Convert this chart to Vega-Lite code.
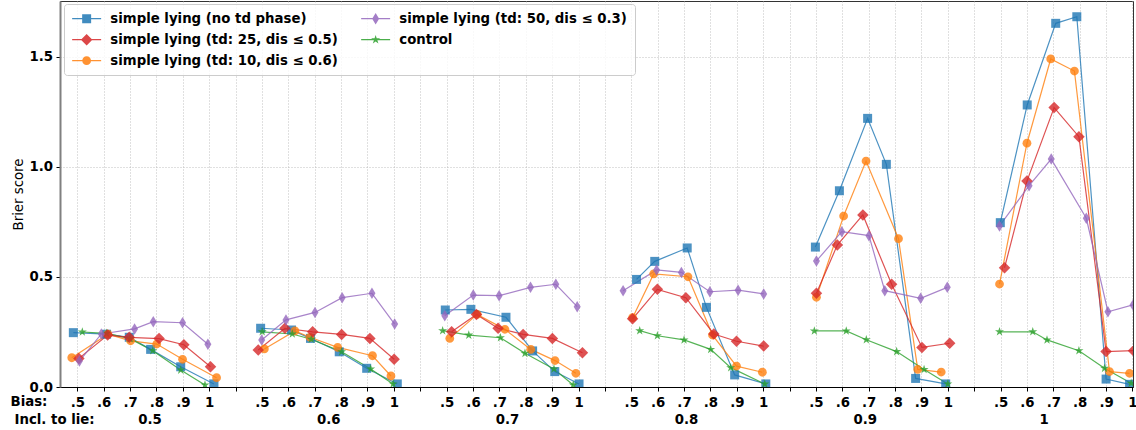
{
  "$schema": "https://vega.github.io/schema/vega-lite/v6.json",
  "width": 1073,
  "height": 386,
  "autosize": {"type": "none"},
  "padding": {"left": 60, "top": 1, "right": 3, "bottom": 43},
  "config": {
    "font": "DejaVu Sans",
    "view": {"stroke": "#333333", "strokeWidth": 1},
    "axis": {"labelFont": "DejaVu Sans", "titleFont": "DejaVu Sans"},
    "legend": {"labelFont": "DejaVu Sans"}
  },
  "datasets": {
    "series": [
      {"s": "A", "name": "simple lying (no td phase)", "z": 0},
      {"s": "B", "name": "simple lying (td: 10, dis ≤ 0.6)", "z": 1},
      {"s": "C", "name": "control", "z": 2},
      {"s": "D", "name": "simple lying (td: 25, dis ≤ 0.5)", "z": 3},
      {"s": "E", "name": "simple lying (td: 50, dis ≤ 0.3)", "z": 4}
    ],
    "pts": [
      {"s":"A","b":0.5,"i":0,"x":-0.15,"y":0.247},{"s":"A","b":0.5,"i":1,"x":1.11,"y":0.24},{"s":"A","b":0.5,"i":2,"x":1.97,"y":0.226},{"s":"A","b":0.5,"i":3,"x":2.78,"y":0.171},{"s":"A","b":0.5,"i":4,"x":3.92,"y":0.092},{"s":"A","b":0.5,"i":5,"x":5.18,"y":0.014},
      {"s":"B","b":0.5,"i":0,"x":-0.21,"y":0.133},{"s":"B","b":0.5,"i":1,"x":1.16,"y":0.24},{"s":"B","b":0.5,"i":2,"x":2.02,"y":0.21},{"s":"B","b":0.5,"i":3,"x":3.01,"y":0.195},{"s":"B","b":0.5,"i":4,"x":3.99,"y":0.126},{"s":"B","b":0.5,"i":5,"x":5.28,"y":0.042},
      {"s":"C","b":0.5,"i":0,"x":0.19,"y":0.25},{"s":"C","b":0.5,"i":1,"x":1.11,"y":0.244},{"s":"C","b":0.5,"i":2,"x":2.0,"y":0.22},{"s":"C","b":0.5,"i":3,"x":2.86,"y":0.165},{"s":"C","b":0.5,"i":4,"x":3.92,"y":0.077},{"s":"C","b":0.5,"i":5,"x":4.84,"y":0.009},
      {"s":"D","b":0.5,"i":0,"x":0.06,"y":0.13},{"s":"D","b":0.5,"i":1,"x":1.15,"y":0.236},{"s":"D","b":0.5,"i":2,"x":1.97,"y":0.226},{"s":"D","b":0.5,"i":3,"x":3.10,"y":0.22},{"s":"D","b":0.5,"i":4,"x":4.04,"y":0.192},{"s":"D","b":0.5,"i":5,"x":5.05,"y":0.092},
      {"s":"E","b":0.5,"i":0,"x":0.08,"y":0.118},{"s":"E","b":0.5,"i":1,"x":0.91,"y":0.241},{"s":"E","b":0.5,"i":2,"x":2.17,"y":0.264},{"s":"E","b":0.5,"i":3,"x":2.88,"y":0.297},{"s":"E","b":0.5,"i":4,"x":3.99,"y":0.292},{"s":"E","b":0.5,"i":5,"x":4.95,"y":0.194},

      {"s":"A","b":0.6,"i":0,"x":6.95,"y":0.267},{"s":"A","b":0.6,"i":1,"x":8.12,"y":0.259},{"s":"A","b":0.6,"i":2,"x":8.84,"y":0.221},{"s":"A","b":0.6,"i":3,"x":9.93,"y":0.16},{"s":"A","b":0.6,"i":4,"x":10.97,"y":0.085},{"s":"A","b":0.6,"i":5,"x":12.13,"y":0.014},
      {"s":"B","b":0.6,"i":0,"x":7.09,"y":0.173},{"s":"B","b":0.6,"i":1,"x":8.25,"y":0.255},{"s":"B","b":0.6,"i":2,"x":8.82,"y":0.226},{"s":"B","b":0.6,"i":3,"x":9.87,"y":0.18},{"s":"B","b":0.6,"i":4,"x":11.19,"y":0.142},{"s":"B","b":0.6,"i":5,"x":11.89,"y":0.05},
      {"s":"C","b":0.6,"i":0,"x":7.01,"y":0.251},{"s":"C","b":0.6,"i":1,"x":8.15,"y":0.241},{"s":"C","b":0.6,"i":2,"x":8.87,"y":0.217},{"s":"C","b":0.6,"i":3,"x":10.02,"y":0.16},{"s":"C","b":0.6,"i":4,"x":11.12,"y":0.082},{"s":"C","b":0.6,"i":5,"x":11.97,"y":0.014},
      {"s":"D","b":0.6,"i":0,"x":6.86,"y":0.168},{"s":"D","b":0.6,"i":1,"x":7.87,"y":0.267},{"s":"D","b":0.6,"i":2,"x":8.92,"y":0.251},{"s":"D","b":0.6,"i":3,"x":10.02,"y":0.239},{"s":"D","b":0.6,"i":4,"x":11.09,"y":0.221},{"s":"D","b":0.6,"i":5,"x":12.01,"y":0.126},
      {"s":"E","b":0.6,"i":0,"x":6.99,"y":0.214},{"s":"E","b":0.6,"i":1,"x":7.91,"y":0.305},{"s":"E","b":0.6,"i":2,"x":9.01,"y":0.339},{"s":"E","b":0.6,"i":3,"x":10.04,"y":0.406},{"s":"E","b":0.6,"i":4,"x":11.17,"y":0.426},{"s":"E","b":0.6,"i":5,"x":12.03,"y":0.286},

      {"s":"A","b":0.7,"i":0,"x":13.95,"y":0.35},{"s":"A","b":0.7,"i":1,"x":14.92,"y":0.353},{"s":"A","b":0.7,"i":2,"x":16.25,"y":0.317},{"s":"A","b":0.7,"i":3,"x":17.26,"y":0.164},{"s":"A","b":0.7,"i":4,"x":18.10,"y":0.07},{"s":"A","b":0.7,"i":5,"x":19.02,"y":0.014},
      {"s":"B","b":0.7,"i":0,"x":14.12,"y":0.221},{"s":"B","b":0.7,"i":1,"x":15.16,"y":0.33},{"s":"B","b":0.7,"i":2,"x":16.21,"y":0.262},{"s":"B","b":0.7,"i":3,"x":17.19,"y":0.171},{"s":"B","b":0.7,"i":4,"x":18.11,"y":0.12},{"s":"B","b":0.7,"i":5,"x":18.90,"y":0.062},
      {"s":"C","b":0.7,"i":0,"x":13.85,"y":0.256},{"s":"C","b":0.7,"i":1,"x":14.84,"y":0.236},{"s":"C","b":0.7,"i":2,"x":16.04,"y":0.224},{"s":"C","b":0.7,"i":3,"x":16.97,"y":0.153},{"s":"C","b":0.7,"i":4,"x":18.07,"y":0.082},{"s":"C","b":0.7,"i":5,"x":18.80,"y":0.009},
      {"s":"D","b":0.7,"i":0,"x":14.19,"y":0.251},{"s":"D","b":0.7,"i":1,"x":15.13,"y":0.33},{"s":"D","b":0.7,"i":2,"x":15.95,"y":0.267},{"s":"D","b":0.7,"i":3,"x":16.90,"y":0.239},{"s":"D","b":0.7,"i":4,"x":18.01,"y":0.221},{"s":"D","b":0.7,"i":5,"x":19.15,"y":0.156},
      {"s":"E","b":0.7,"i":0,"x":13.93,"y":0.324},{"s":"E","b":0.7,"i":1,"x":15.01,"y":0.418},{"s":"E","b":0.7,"i":2,"x":15.99,"y":0.415},{"s":"E","b":0.7,"i":3,"x":17.18,"y":0.453},{"s":"E","b":0.7,"i":4,"x":18.14,"y":0.467},{"s":"E","b":0.7,"i":5,"x":18.95,"y":0.365},

      {"s":"A","b":0.8,"i":0,"x":21.2,"y":0.489},{"s":"A","b":0.8,"i":1,"x":21.89,"y":0.571},{"s":"A","b":0.8,"i":2,"x":23.12,"y":0.632},{"s":"A","b":0.8,"i":3,"x":23.85,"y":0.362},{"s":"A","b":0.8,"i":4,"x":24.92,"y":0.055},{"s":"A","b":0.8,"i":5,"x":26.1,"y":0.014},
      {"s":"B","b":0.8,"i":0,"x":21.05,"y":0.315},{"s":"B","b":0.8,"i":1,"x":21.85,"y":0.514},{"s":"B","b":0.8,"i":2,"x":23.15,"y":0.501},{"s":"B","b":0.8,"i":3,"x":24.08,"y":0.236},{"s":"B","b":0.8,"i":4,"x":24.99,"y":0.095},{"s":"B","b":0.8,"i":5,"x":25.97,"y":0.067},
      {"s":"C","b":0.8,"i":0,"x":21.32,"y":0.256},{"s":"C","b":0.8,"i":1,"x":21.99,"y":0.233},{"s":"C","b":0.8,"i":2,"x":23.0,"y":0.214},{"s":"C","b":0.8,"i":3,"x":24.01,"y":0.171},{"s":"C","b":0.8,"i":4,"x":24.77,"y":0.088},{"s":"C","b":0.8,"i":5,"x":26.06,"y":0.014},
      {"s":"D","b":0.8,"i":0,"x":21.05,"y":0.31},{"s":"D","b":0.8,"i":1,"x":21.99,"y":0.444},{"s":"D","b":0.8,"i":2,"x":23.07,"y":0.406},{"s":"D","b":0.8,"i":3,"x":24.13,"y":0.241},{"s":"D","b":0.8,"i":4,"x":24.99,"y":0.208},{"s":"D","b":0.8,"i":5,"x":26.02,"y":0.186},
      {"s":"E","b":0.8,"i":0,"x":20.69,"y":0.438},{"s":"E","b":0.8,"i":1,"x":21.96,"y":0.532},{"s":"E","b":0.8,"i":2,"x":22.9,"y":0.521},{"s":"E","b":0.8,"i":3,"x":23.98,"y":0.433},{"s":"E","b":0.8,"i":4,"x":25.05,"y":0.44},{"s":"E","b":0.8,"i":5,"x":26.02,"y":0.423},

      {"s":"A","b":0.9,"i":0,"x":27.98,"y":0.636},{"s":"A","b":0.9,"i":1,"x":28.89,"y":0.892},{"s":"A","b":0.9,"i":2,"x":29.96,"y":1.221},{"s":"A","b":0.9,"i":3,"x":30.67,"y":1.012},{"s":"A","b":0.9,"i":4,"x":31.78,"y":0.039},{"s":"A","b":0.9,"i":5,"x":32.92,"y":0.014},
      {"s":"B","b":0.9,"i":0,"x":28.02,"y":0.408},{"s":"B","b":0.9,"i":1,"x":29.05,"y":0.777},{"s":"B","b":0.9,"i":2,"x":29.9,"y":1.027},{"s":"B","b":0.9,"i":3,"x":31.13,"y":0.674},{"s":"B","b":0.9,"i":4,"x":31.86,"y":0.08},{"s":"B","b":0.9,"i":5,"x":32.75,"y":0.068},
      {"s":"C","b":0.9,"i":0,"x":27.94,"y":0.255},{"s":"C","b":0.9,"i":1,"x":29.15,"y":0.255},{"s":"C","b":0.9,"i":2,"x":29.91,"y":0.215},{"s":"C","b":0.9,"i":3,"x":31.06,"y":0.161},{"s":"C","b":0.9,"i":4,"x":32.1,"y":0.08},{"s":"C","b":0.9,"i":5,"x":33.0,"y":0.014},
      {"s":"D","b":0.9,"i":0,"x":28.02,"y":0.426},{"s":"D","b":0.9,"i":1,"x":28.81,"y":0.645},{"s":"D","b":0.9,"i":2,"x":29.78,"y":0.782},{"s":"D","b":0.9,"i":3,"x":30.87,"y":0.467},{"s":"D","b":0.9,"i":4,"x":32.02,"y":0.18},{"s":"D","b":0.9,"i":5,"x":33.07,"y":0.199},
      {"s":"E","b":0.9,"i":0,"x":28.02,"y":0.573},{"s":"E","b":0.9,"i":1,"x":28.98,"y":0.706},{"s":"E","b":0.9,"i":2,"x":30.01,"y":0.688},{"s":"E","b":0.9,"i":3,"x":30.61,"y":0.438},{"s":"E","b":0.9,"i":4,"x":31.97,"y":0.403},{"s":"E","b":0.9,"i":5,"x":32.98,"y":0.453},

      {"s":"A","b":1,"i":0,"x":34.99,"y":0.747},{"s":"A","b":1,"i":1,"x":36.01,"y":1.282},{"s":"A","b":1,"i":2,"x":37.09,"y":1.653},{"s":"A","b":1,"i":3,"x":37.89,"y":1.683},{"s":"A","b":1,"i":4,"x":39.0,"y":0.036},{"s":"A","b":1,"i":5,"x":39.89,"y":0.012},
      {"s":"B","b":1,"i":0,"x":34.96,"y":0.468},{"s":"B","b":1,"i":1,"x":36.0,"y":1.108},{"s":"B","b":1,"i":2,"x":36.9,"y":1.491},{"s":"B","b":1,"i":3,"x":37.8,"y":1.436},{"s":"B","b":1,"i":4,"x":39.13,"y":0.07},{"s":"B","b":1,"i":5,"x":39.89,"y":0.062},
      {"s":"C","b":1,"i":0,"x":34.96,"y":0.251},{"s":"C","b":1,"i":1,"x":36.22,"y":0.251},{"s":"C","b":1,"i":2,"x":36.76,"y":0.214},{"s":"C","b":1,"i":3,"x":37.97,"y":0.165},{"s":"C","b":1,"i":4,"x":38.94,"y":0.085},{"s":"C","b":1,"i":5,"x":39.95,"y":0.017},
      {"s":"D","b":1,"i":0,"x":35.15,"y":0.542},{"s":"D","b":1,"i":1,"x":36.0,"y":0.936},{"s":"D","b":1,"i":2,"x":37.03,"y":1.27},{"s":"D","b":1,"i":3,"x":37.97,"y":1.138},{"s":"D","b":1,"i":4,"x":39.0,"y":0.161},{"s":"D","b":1,"i":5,"x":40.04,"y":0.165},
      {"s":"E","b":1,"i":0,"x":34.96,"y":0.732},{"s":"E","b":1,"i":1,"x":36.08,"y":0.915},{"s":"E","b":1,"i":2,"x":36.92,"y":1.036},{"s":"E","b":1,"i":3,"x":38.25,"y":0.767},{"s":"E","b":1,"i":4,"x":39.07,"y":0.342},{"s":"E","b":1,"i":5,"x":40.02,"y":0.373}
    ]
  },
  "data": {"name": "pts"},
  "transform": [
    {"lookup": "s", "from": {"data": {"name": "series"}, "key": "s", "fields": ["name", "z"]}}
  ],
  "layer": [
    {
      "mark": {"type": "line", "strokeWidth": 1.2, "opacity": 0.8, "clip": true},
      "encoding": {
        "x": {
          "field": "x", "type": "quantitative",
          "scale": {"domain": [-0.656, 40.02], "nice": false, "zero": false},
          "axis": {
            "values": [0,1,2,3,4,5,6,7,8,9,10,11,12,13,14,15,16,17,18,19,20,21,22,23,24,25,26,27,28,29,30,31,32,33,34,35,36,37,38,39,40],
            "labelExpr": "datum.value % 7 == 6 ? '' : ['.5','.6','.7','.8','.9','1'][datum.value % 7]",
            "labelFontSize": 13.3, "labelFontWeight": "bold", "labelColor": "black",
            "labelFlush": false, "labelOverlap": false, "labelPadding": 4.5,
            "tickSize": 4, "tickColor": "black", "tickWidth": 1,
            "domainColor": "black", "domainWidth": 1.2,
            "grid": true, "gridDash": [1, 2], "gridColor": "#b0b0b0", "gridWidth": 0.8,
            "title": "Bias:", "titleX": -50, "titleY": 18.5, "titleAlign": "left", "titleBaseline": "alphabetic",
            "titleFontSize": 13.3, "titleFontWeight": "bold", "titleColor": "black"
          }
        },
        "y": {
          "field": "y", "type": "quantitative",
          "scale": {"domain": [0, 1.7545], "nice": false},
          "axis": {
            "values": [0, 0.5, 1, 1.5], "format": ".1f",
            "labelFontSize": 13.3, "labelFontWeight": "bold", "labelColor": "black", "labelPadding": 3.5,
            "tickSize": 4, "tickColor": "black",
            "domainColor": "#808080", "domainWidth": 2,
            "grid": true, "gridDash": [1, 2], "gridColor": "#b0b0b0", "gridWidth": 0.8,
            "title": "Brier score", "titleX": -37.3, "titleY": 193, "titleAngle": -90, "titleAlign": "center", "titleBaseline": "alphabetic",
            "titleFontSize": 13.3, "titleFontWeight": "normal", "titleColor": "black"
          }
        },
        "color": {
          "field": "name", "type": "nominal",
          "scale": {
            "domain": ["simple lying (no td phase)", "simple lying (td: 25, dis ≤ 0.5)", "simple lying (td: 10, dis ≤ 0.6)", "simple lying (td: 50, dis ≤ 0.3)", "control"],
            "range": ["#1f77b4", "#d62728", "#ff7f0e", "#9467bd", "#2ca02c"]
          },
          "legend": {
            "title": null, "orient": "none", "legendX": 4, "legendY": 3, "columns": 2,
            "columnPadding": 23, "rowPadding": 7, "labelOffset": 25, "padding": 8,
            "labelFontSize": 13.3, "labelFontWeight": "bold", "labelColor": "black", "labelLimit": 500,
            "fillColor": "rgba(255,255,255,0.8)", "strokeColor": "#cccccc", "cornerRadius": 3,
            "symbolSize": 169, "symbolStrokeWidth": 0, "symbolType": "M-1,-0.1H3.46V0.1H-1ZM0.54,-0.69H1.92V0.69H0.54Z",
            "symbolFillColor": "#1f77b4", "symbolOpacity": 1,
            "encode": {
              "symbols": {
                "update": {
                  "shape": {"signal": "datum.value === 'control' ? 'M-1,-0.1H3.46V0.1H-1ZM1.23,-0.731L1.394,-0.226L1.925,-0.226L1.495,0.086L1.66,0.591L1.23,0.279L0.8,0.591L0.965,0.086L0.535,-0.226L1.066,-0.226Z' : datum.value === 'simple lying (no td phase)' ? 'M-1,-0.1H3.46V0.1H-1ZM0.54,-0.69H1.92V0.69H0.54Z' : indexof(datum.value, '25') >= 0 ? 'M-1,-0.1H3.46V0.1H-1ZM1.23,-0.885L2.115,0L1.23,0.885L0.345,0Z' : indexof(datum.value, '10') >= 0 ? 'M-1,-0.1H3.46V0.1H-1ZM0.553,0A0.677,0.677 0 1,1 1.907,0A0.677,0.677 0 1,1 0.553,0Z' : 'M-1,-0.1H3.46V0.1H-1ZM1.23,-0.885L1.768,0L1.23,0.885L0.692,0Z'"},
                  "size": {"value": 169},
                  "fill": {"signal": "scale('color', datum.value)"},
                  "fillOpacity": {"value": 0.85},
                  "strokeWidth": {"value": 0},
                  "opacity": {"value": 1}
                }
              }
            }
          }
        },
        "detail": {"field": "b", "type": "nominal"},
        "order": {"field": "i", "type": "quantitative"}
      }
    },
    {
      "mark": {"type": "point", "filled": true, "size": 100, "opacity": 0.8, "strokeWidth": 0, "clip": true},
      "encoding": {
        "x": {
          "field": "x", "type": "quantitative",
          "scale": {"domain": [-0.656, 40.02], "nice": false, "zero": false},
          "axis": {
            "orient": "bottom",
            "values": [2.7337, 9.513, 16.2923, 23.0717, 29.851, 36.63],
            "labelExpr": "['0.5','0.6','0.7','0.8','0.9','1'][floor(datum.value / 6.7)]",
            "labelFontSize": 13.3, "labelFontWeight": "bold", "labelColor": "black",
            "labelFlush": false, "labelOverlap": false, "labelPadding": 25.5,
            "ticks": false, "tickSize": 0, "domain": false, "grid": false,
            "title": "Incl. to lie:", "titleX": -46, "titleY": 36, "titleAlign": "left", "titleBaseline": "alphabetic",
            "titleFontSize": 13.3, "titleFontWeight": "bold", "titleColor": "black"
          }
        },
        "y": {"field": "y", "type": "quantitative"},
        "color": {"field": "name", "type": "nominal", "legend": null},
        "shape": {
          "field": "s", "type": "nominal",
          "scale": {
            "domain": ["A", "D", "B", "E", "C"],
            "range": [
              "M-0.9,-0.9H0.9V0.9H-0.9Z",
              "M0,-1.15L1.15,0L0,1.15L-1.15,0Z",
              "M-0.88,0A0.88,0.88 0 1,1 0.88,0A0.88,0.88 0 1,1 -0.88,0Z",
              "M0,-1.15L0.7,0L0,1.15L-0.7,0Z",
              "M0,-0.95L0.213,-0.294L0.904,-0.294L0.345,0.112L0.558,0.769L0,0.363L-0.558,0.769L-0.345,0.112L-0.904,-0.294L-0.213,-0.294Z"
            ]
          },
          "legend": null
        },
        "order": {"field": "z", "type": "quantitative"}
      }
    }
  ],
  "resolve": {"scale": {"x": "independent"}, "axis": {"x": "independent"}}
}
